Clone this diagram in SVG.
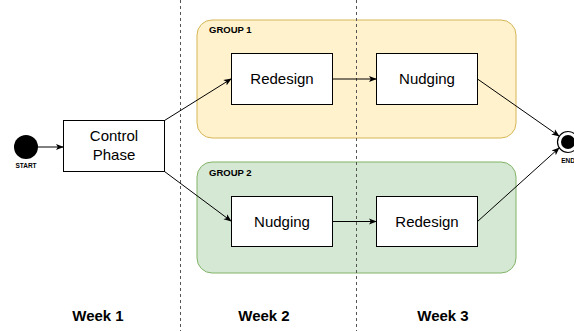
<svg xmlns="http://www.w3.org/2000/svg" width="574" height="331" viewBox="0 0 574 331">
<style>
.node{fill:#fff;stroke:#000;stroke-width:1}
.lbl{font-family:"Liberation Sans",Arial,sans-serif;font-size:15px;fill:#000;text-anchor:middle}
.grp{font-family:"Liberation Sans",Arial,sans-serif;font-size:9.5px;font-weight:bold;fill:#000}
.wk{font-family:"Liberation Sans",Arial,sans-serif;font-size:15px;font-weight:bold;fill:#000;text-anchor:middle}
.sm{font-family:"Liberation Sans",Arial,sans-serif;font-size:6.5px;font-weight:bold;fill:#000;text-anchor:middle}
.edge{fill:none;stroke:#000;stroke-width:1;marker-end:url(#arr)}
.div{stroke:#555;stroke-width:1;stroke-dasharray:3 3}
</style>
<defs>
<marker id="arr" viewBox="0 0 10 10" refX="9" refY="5" markerWidth="8" markerHeight="8" orient="auto" markerUnits="userSpaceOnUse">
<path d="M0,1 L10,5 L0,9 L2.5,5 Z" fill="#000"/>
</marker>
</defs>
<rect width="574" height="331" fill="#fff"/>
<g id="group1">
<rect x="197" y="20" width="319" height="118" rx="15" fill="#fff2cc" stroke="#d6b656"/>
<text class="grp" x="209" y="33">GROUP 1</text>
</g>
<g id="group2">
<rect x="197" y="162" width="319" height="111" rx="15" fill="#d5e8d4" stroke="#82b366"/>
<text class="grp" x="209" y="176">GROUP 2</text>
</g>
<g id="dividers">
<line class="div" x1="180.5" y1="0" x2="180.5" y2="331"/>
<line class="div" x1="356.5" y1="0" x2="356.5" y2="331"/>
</g>
<g id="start">
<circle cx="26" cy="147" r="12" fill="#000"/>
<text class="sm" x="26" y="168">START</text>
</g>
<g id="control">
<rect class="node" x="63.5" y="120.5" width="101" height="51"/>
<text class="lbl" x="114" y="141">Control</text>
<text class="lbl" x="114" y="160">Phase</text>
</g>
<g id="redesign1">
<rect class="node" x="231.5" y="53.5" width="101" height="51"/>
<text class="lbl" x="282" y="84">Redesign</text>
</g>
<g id="nudging1">
<rect class="node" x="376.5" y="53.5" width="101" height="51"/>
<text class="lbl" x="427" y="84">Nudging</text>
</g>
<g id="nudging2">
<rect class="node" x="231.5" y="196.5" width="101" height="50"/>
<text class="lbl" x="282" y="227">Nudging</text>
</g>
<g id="redesign2">
<rect class="node" x="376.5" y="196.5" width="101" height="50"/>
<text class="lbl" x="427" y="227">Redesign</text>
</g>
<g id="end">
<circle cx="568" cy="142" r="10.5" fill="#fff" stroke="#000" stroke-width="1.2"/>
<circle cx="568" cy="142" r="7" fill="#000"/>
<text class="sm" x="568" y="163">END</text>
</g>
<g id="connectors">
<line class="edge" x1="38" y1="147" x2="63" y2="147"/>
<line class="edge" x1="164.5" y1="120.5" x2="231" y2="79"/>
<line class="edge" x1="164.5" y1="171.5" x2="231" y2="221"/>
<line class="edge" x1="332.5" y1="79" x2="376" y2="79"/>
<line class="edge" x1="332.5" y1="221.5" x2="376" y2="221.5"/>
<line class="edge" x1="477.5" y1="79" x2="559" y2="136"/>
<line class="edge" x1="477.5" y1="221.5" x2="559" y2="148"/>
</g>
<g id="weeks">
<text class="wk" x="98" y="321">Week 1</text>
<text class="wk" x="264" y="321">Week 2</text>
<text class="wk" x="443" y="321">Week 3</text>
</g>
</svg>
